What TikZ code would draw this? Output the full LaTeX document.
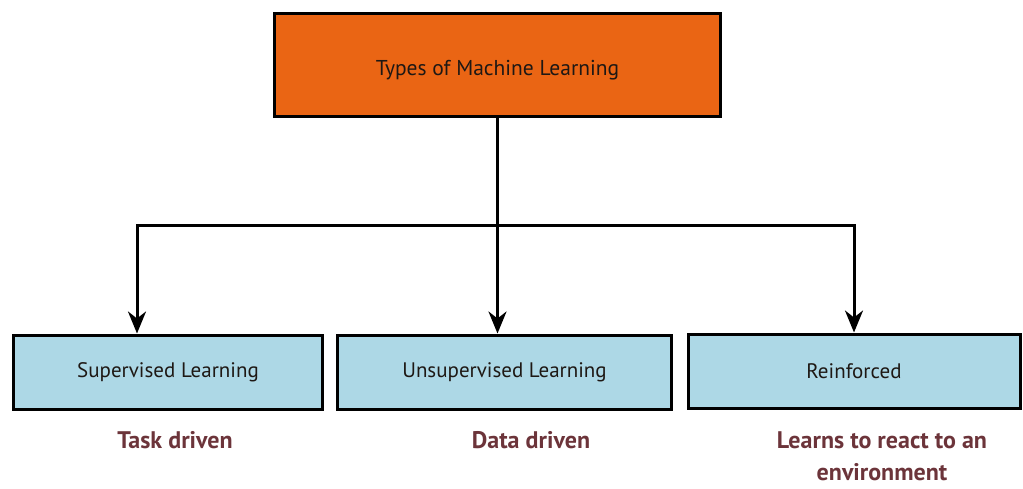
\documentclass[tikz,border=0pt]{standalone}
\usepackage{fontspec}
\setmainfont{PT Sans}
\usetikzlibrary{arrows.meta,calc}
\definecolor{topfill}{RGB}{234,101,20}
\definecolor{boxfill}{RGB}{173,216,230}
\definecolor{labelcol}{RGB}{108,52,58}
\definecolor{textcol}{RGB}{30,24,20}
\tikzset{
  topbox/.style={draw=black,line width=3pt,fill=topfill,minimum width=446pt,minimum height=103pt,inner sep=0pt,text=textcol,font=\fontsize{21.5}{24}\selectfont},
  typebox/.style={draw=black,line width=3pt,fill=boxfill,minimum height=74pt,inner sep=0pt,text=textcol,font=\fontsize{21}{24}\selectfont},
  desc/.style={text=labelcol,font=\fontsize{24}{32}\selectfont\bfseries,align=center},
  conn/.style={line width=3pt,black},
  arrowconn/.style={conn,-{Stealth[length=22pt,width=18pt,inset=7pt]}}
}
\begin{document}
\begin{tikzpicture}[x=1pt,y=-1pt]
\useasboundingbox (0,0) rectangle (1023,488);
\node[topbox,text depth=0pt] (top) at (497.5,64.5) {\raisebox{-6pt}{Types of Machine Learning}};
\node[typebox,minimum width=309pt] (sup) at (168,372) {Supervised Learning};
\node[typebox,minimum width=334pt] (uns) at (504.5,372) {Unsupervised Learning};
\node[typebox,minimum width=332pt] (rei) at (854,371) {Reinforced};
\node[desc] (d1) at (175,440) {Task driven};
\node[desc] (d2) at (531,440) {Data driven};
\node[desc] (d3) at (882,456) {Learns to react to an\\environment};
\coordinate (j) at (497.5,225);
\draw[conn] (top.south) -- (j);
\draw[arrowconn] (j) -| ([xshift=-31pt]sup.north);
\draw[arrowconn] (j) -- (j |- uns.north);
\draw[arrowconn] (j) -| (rei.north);
\end{tikzpicture}
\end{document}
